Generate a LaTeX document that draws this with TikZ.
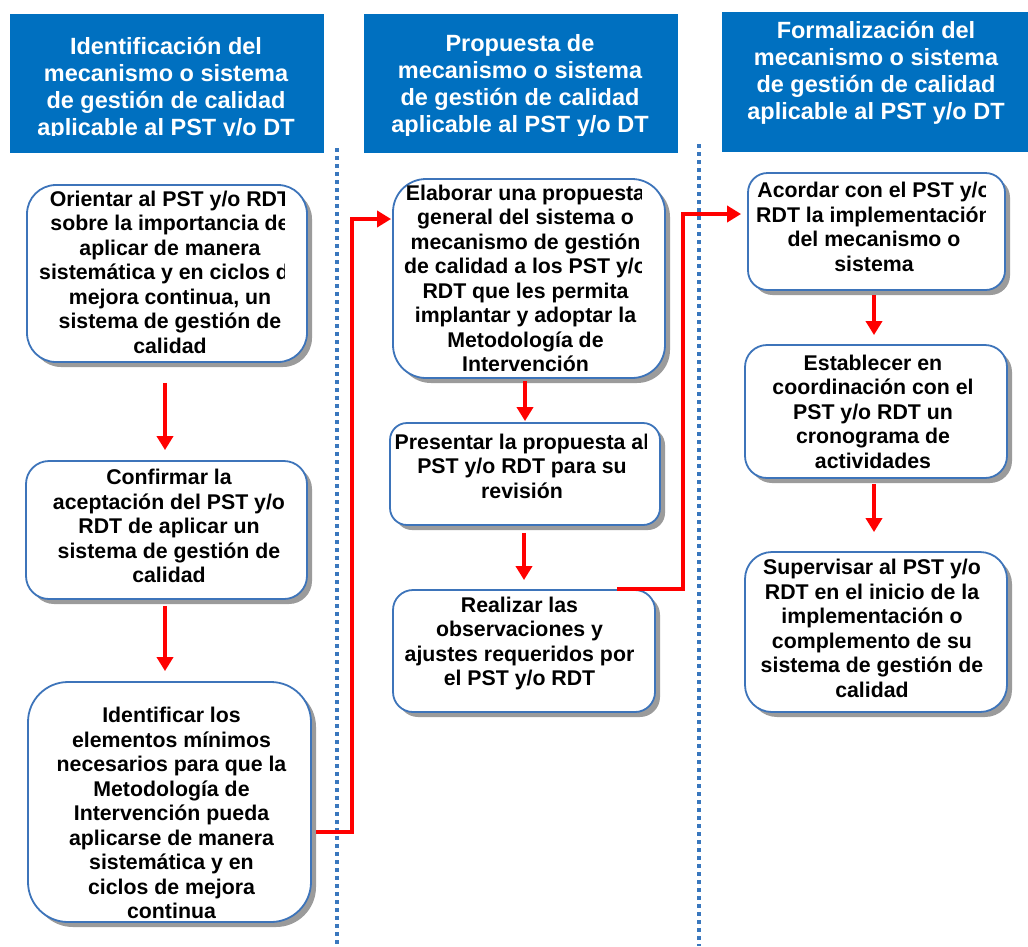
\documentclass[tikz,border=0pt]{standalone}
\usepackage{fontspec}
\setmainfont{Liberation Sans}
\usetikzlibrary{arrows.meta,shadows,calc}

\definecolor{hdrblue}{RGB}{0,112,192}
\definecolor{edgeblue}{RGB}{61,116,186}
\definecolor{dotblue}{RGB}{58,120,190}
\definecolor{flowred}{RGB}{255,0,0}
\definecolor{shadowgray}{RGB}{155,155,155}

\tikzset{
  header/.style={fill=hdrblue, draw=none, inner sep=0pt},
  headtext/.style={text=white, font=\bfseries\fontsize{23.5}{27}\selectfont,
    align=center, inner sep=0pt},
  stepbox/.style={draw=edgeblue, line width=1.8pt, fill=white, inner sep=0pt,
    rounded corners=#1,
    drop shadow={shadow xshift=5pt, shadow yshift=-5pt, fill=shadowgray, opacity=1}},
  steptext/.style={font=\bfseries\fontsize{21.3}{24.5}\selectfont,
    align=center, inner sep=0pt},
  flow/.style={draw=flowred, line width=3.5pt, line join=miter,
    -{Triangle[width=16pt,length=14pt]}},
  divider/.style={draw=dotblue, line width=3.6pt, dash pattern=on 3.6pt off 4.4pt},
}

\begin{document}
\begin{tikzpicture}[x=1pt, y=-1pt]
\useasboundingbox (0,0) rectangle (1028,946);

% column dividers
\draw[divider] (337,148) -- (337,946);
\draw[divider] (699,144) -- (699,946);

% column headers
\node[header, minimum width=314pt, minimum height=139pt] (h1) at (167,83.5) {};
\node[header, minimum width=314pt, minimum height=139pt] (h2) at (521,83.5) {};
\node[header, minimum width=306pt, minimum height=140pt] (h3) at (875,82) {};

\begin{scope}
  \clip (10,14) rectangle (324,135);
  \node[headtext] (h1t) at (166,89)
    {Identificación del\\mecanismo o sistema\\de gestión de calidad\\aplicable al PST y/o DT};
\end{scope}
\begin{scope}
  \clip (364,14) rectangle (678,135);
  \node[headtext] (h2t) at (520,86)
    {Propuesta de\\mecanismo o sistema\\de gestión de calidad\\aplicable al PST y/o DT};
\end{scope}
\node[headtext] (h3t) at (876,73)
  {Formalización del\\mecanismo o sistema\\de gestión de calidad\\aplicable al PST y/o DT};

% first column
\node[stepbox=29pt, minimum width=280pt, minimum height=177pt] (a1) at (167,273.5) {};
\node[stepbox=23pt, minimum width=281pt, minimum height=138pt] (a2) at (166.5,530) {};
\node[stepbox=40pt, minimum width=283pt, minimum height=240pt] (a3) at (169.5,802) {};

\begin{scope}
  \clip (30,185) rectangle (284,362);
  \node[steptext] (a1t) at (170,272)
    {Orientar al PST y/o RDT\\sobre la importancia de\\aplicar de manera\\sistemática y en ciclos de\\mejora continua, un\\sistema de gestión de\\calidad};
\end{scope}
\node[steptext] (a2t) at (169,526)
  {Confirmar la\\aceptación del PST y/o\\RDT de aplicar un\\sistema de gestión de\\calidad};
\node[steptext] (a3t) at (171.5,813)
  {Identificar los\\elementos mínimos\\necesarios para que la\\Metodología de\\Intervención pueda\\aplicarse de manera\\sistemática y en\\ciclos de mejora\\continua};

% second column
\node[stepbox=33pt, minimum width=272pt, minimum height=199pt] (b1) at (529,278.5) {};
\node[stepbox=17pt, minimum width=270pt, minimum height=102pt] (b2) at (525,474) {};
\node[stepbox=20pt, minimum width=262pt, minimum height=122pt] (b3) at (524,651) {};

\begin{scope}
  \clip (395,179) rectangle (641,378);
  \node[steptext] (b1t) at (525.5,278.5)
    {Elaborar una propuesta\\general del sistema o\\mecanismo de gestión\\de calidad a los PST y/o\\RDT que les permita\\implantar y adoptar la\\Metodología de\\Intervención};
\end{scope}
\begin{scope}
  \clip (391,423) rectangle (646,525);
  \node[steptext] (b2t) at (522,466)
    {Presentar la propuesta al\\PST y/o RDT para su\\revisión};
\end{scope}
\node[steptext] (b3t) at (519.5,643.5)
  {Realizar las\\observaciones y\\ajustes requeridos por\\el PST y/o RDT};

% third column
\node[stepbox=19.5pt, minimum width=257pt, minimum height=117pt] (c1) at (876.5,231.5) {};
\node[stepbox=22pt, minimum width=262pt, minimum height=133pt] (c2) at (876,411.5) {};
\node[stepbox=27pt, minimum width=262pt, minimum height=160pt] (c3) at (876,632) {};

\begin{scope}
  \clip (750,173) rectangle (985,290);
  \node[steptext] (c1t) at (874,227)
    {Acordar con el PST y/o\\RDT la implementación\\del mecanismo o\\sistema};
\end{scope}
\node[steptext] (c2t) at (873,411.5)
  {Establecer en\\coordinación con el\\PST y/o RDT un\\cronograma de\\actividades};
\node[steptext] (c3t) at (872,628.5)
  {Supervisar al PST y/o\\RDT en el inicio de la\\implementación o\\complemento de su\\sistema de gestión de\\calidad};

% flow arrows within columns
\draw[flow, shorten <=20pt, shorten >=10pt] (a1.south -| 165,0) -- (a2.north -| 165,0);
\draw[flow, shorten <=6pt, shorten >=10pt] (a2.south -| 165,0) -- (a3.north -| 165,0);
\draw[flow, shorten <=2pt, shorten >=1pt] (b1.south -| b2) -- (b2.north);
\draw[flow, shorten <=7pt, shorten >=9pt] (b2.south -| b3) -- (b3.north);
\draw[flow, shorten <=4pt, shorten >=9pt] (c1.south -| 874,0) -- (c2.north -| 874,0);
\draw[flow, shorten <=5pt, shorten >=19pt] (c2.south -| 874,0) -- (c3.north -| 874,0);

% flow arrows between columns
\draw[flow, shorten <=4pt, shorten >=1pt]
  ([yshift=-30pt]a3.east) -- ++(40,0) |- ([yshift=59.5pt]b1.west);
\draw[flow, shorten >=6pt]
  ([xshift=93pt]b3.north) -- ++(66,0) |- ([yshift=17.5pt]c1.west);
\end{tikzpicture}
\end{document}
